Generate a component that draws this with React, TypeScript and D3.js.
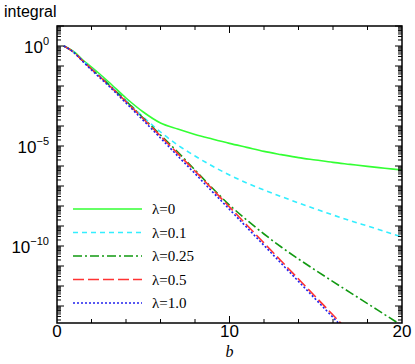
import { useEffect, useRef } from "react";
import * as d3 from "d3";

const bVals = [0.4, 1, 1.5, 2, 3, 4, 5, 6, 7, 8, 9, 10, 11, 12, 13, 14, 15, 16, 17, 18, 19, 20];

// log10 of the integral for each lambda
const lam0 = [0, -0.3, -0.7, -1.05, -1.8, -2.6, -3.3, -3.85, -4.15, -4.42, -4.65, -4.87, -5.07, -5.27, -5.43, -5.58, -5.7, -5.82, -5.92, -6.02, -6.11, -6.2];
const lam01 = [0, -0.32, -0.73, -1.12, -1.9, -2.72, -3.55, -4.3, -4.95, -5.5, -6.0, -6.45, -6.85, -7.2, -7.53, -7.85, -8.15, -8.45, -8.73, -9.0, -9.27, -9.55];
const lam025 = [0, -0.33, -0.75, -1.15, -1.93, -2.75, -3.6, -4.45, -5.3, -6.2, -7.1, -7.95, -8.7, -9.4, -10.05, -10.65, -11.22, -11.78, -12.33, -12.88, -13.43, -13.98];
const lam05 = [0, -0.33, -0.75, -1.15, -1.95, -2.78, -3.64, -4.5, -5.38, -6.25, -7.15, -8.05, -8.95, -9.85, -10.75, -11.65, -12.55, -13.45, -14.35];
const lam10 = [0, -0.35, -0.78, -1.2, -2.0, -2.85, -3.72, -4.6, -5.5, -6.38, -7.28, -8.17, -9.07, -9.97, -10.87, -11.77, -12.67, -13.57, -14.47];

const labels = ["λ=0", "λ=0.1", "λ=0.25", "λ=0.5", "λ=1.0"];
const xTicks = [0, 10, 20];
const yLabelExps = [0, -5, -10];

export default function App() {
    const ref = useRef<SVGSVGElement>(null);

    useEffect(() => {
        const svg = d3.select(ref.current);
        svg.selectAll("*").remove();

        const left = 57, right = 402, top = 26, bottom = 323;

        const x = d3.scaleLinear().domain([0, 20]).range([left, right]);
        const y = d3.scaleLog().domain([Math.pow(10, -13.85), 10]).range([bottom, top]);

        const series = [
            { vals: lam0, color: "#33ff33", dash: null },
            { vals: lam01, color: "#33eeff", dash: "5,4" },
            { vals: lam025, color: "#119911", dash: "9,3,2,3" },
            { vals: lam05, color: "#ff3333", dash: "11,4" },
            { vals: lam10, color: "#2222ee", dash: "2,2" },
        ];

        svg.append("clipPath").attr("id", "clip")
            .append("rect").attr("x", left).attr("y", top)
            .attr("width", right - left).attr("height", bottom - top);

        const line = d3.line<[number, number]>()
            .x((d) => x(d[0]))
            .y((d) => y(Math.pow(10, d[1])))
            .curve(d3.curveMonotoneX);

        const g = svg.append("g").attr("clip-path", "url(#clip)");
        series.forEach((s) => {
            const pts = s.vals.map((v, i) => [bVals[i], v] as [number, number]);
            g.append("path")
                .datum(pts)
                .attr("fill", "none")
                .attr("stroke", s.color)
                .attr("stroke-width", 1.6)
                .attr("stroke-dasharray", s.dash)
                .attr("d", line);
        });

        // frame
        svg.append("rect")
            .attr("x", left).attr("y", top)
            .attr("width", right - left).attr("height", bottom - top)
            .attr("fill", "none").attr("stroke", "black").attr("stroke-width", 1.5);

        // y ticks, both sides, pointing inward
        const [ymin, ymax] = y.domain();
        for (let k = -14; k <= 1; k++) {
            for (let m = 1; m <= 9; m++) {
                const v = m * Math.pow(10, k);
                if (v < ymin || v > ymax) continue;
                const len = m === 1 ? 7 : 4;
                const py = y(v);
                svg.append("line").attr("x1", left).attr("x2", left + len)
                    .attr("y1", py).attr("y2", py).attr("stroke", "black").attr("stroke-width", 1);
                svg.append("line").attr("x1", right).attr("x2", right - len)
                    .attr("y1", py).attr("y2", py).attr("stroke", "black").attr("stroke-width", 1);
            }
        }

        // x ticks
        d3.range(2, 20, 2).forEach((t) => {
            const len = t % 10 === 0 ? 7 : 4;
            svg.append("line").attr("x1", x(t)).attr("x2", x(t))
                .attr("y1", bottom).attr("y2", bottom - len).attr("stroke", "black");
            svg.append("line").attr("x1", x(t)).attr("x2", x(t))
                .attr("y1", top).attr("y2", top + len).attr("stroke", "black");
        });

        const sans = "Liberation Sans, Arial, sans-serif";
        const serif = "Liberation Serif, Times New Roman, serif";

        xTicks.forEach((t) => {
            svg.append("text").attr("x", x(t)).attr("y", bottom + 14)
                .attr("text-anchor", "middle").attr("font-family", sans)
                .attr("font-size", 17).text(String(t));
        });

        yLabelExps.forEach((e) => {
            const t = svg.append("text").attr("x", 49).attr("y", y(Math.pow(10, e)) + 7)
                .attr("text-anchor", "end").attr("font-family", sans).attr("font-size", 17);
            t.append("tspan").text("10");
            t.append("tspan").attr("dy", -8).attr("font-size", 11)
                .text(e === 0 ? "0" : "\u2212" + String(-e));
        });

        svg.append("text").attr("x", 4).attr("y", 17)
            .attr("font-family", sans).attr("font-size", 16).text("integral");

        svg.append("text").attr("x", x(10)).attr("y", 357)
            .attr("text-anchor", "middle").attr("font-family", serif)
            .attr("font-style", "italic").attr("font-size", 16).text("b");

        // legend
        const legY = d3.scaleLinear().domain([0, 4]).range([209, 303]);
        series.forEach((s, i) => {
            svg.append("line").attr("x1", 73).attr("x2", 142)
                .attr("y1", legY(i)).attr("y2", legY(i))
                .attr("stroke", s.color).attr("stroke-width", 1.6)
                .attr("stroke-dasharray", s.dash);
            svg.append("text").attr("x", 152).attr("y", legY(i) + 5)
                .attr("font-family", serif).attr("font-size", 15).text(labels[i]);
        });
    }, []);

    return (
        <svg ref={ref} width={415} height={364}
            style={{ position: "absolute", left: 0, top: 0, background: "white" }} />
    );
}
